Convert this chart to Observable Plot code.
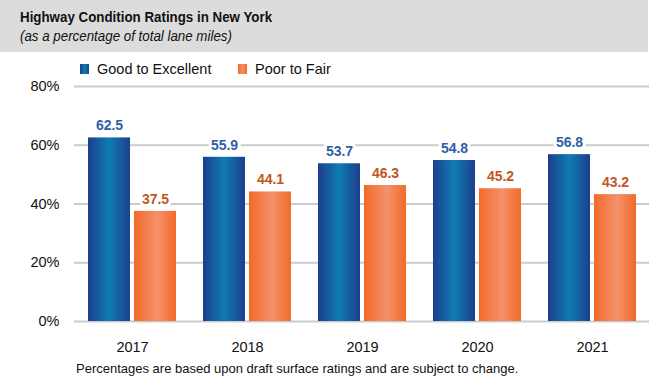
<!DOCTYPE html>
<html>
<head>
<meta charset="utf-8">
<script src="https://cdn.jsdelivr.net/npm/d3@7"></script>
<script src="https://cdn.jsdelivr.net/npm/@observablehq/plot@0.6"></script>
<style>
  body { margin: 0; background: #fff; font-family: "Liberation Sans", Arial, sans-serif; }
  #wrap { position: relative; width: 650px; height: 381px; overflow: hidden; }
  #header { position: absolute; left: 0; top: 0; width: 648px; height: 52px; background: #dcdcdc; }
  #title { position: absolute; left: 20px; top: 8px; font-size: 15.5px; font-weight: bold; color: #111; transform: scaleX(0.86); transform-origin: 0 0; white-space: nowrap; }
  #subtitle { position: absolute; left: 20px; top: 27px; font-size: 15.5px; font-style: italic; color: #111; transform: scaleX(0.86); transform-origin: 0 0; white-space: nowrap; }
  .leg { position: absolute; top: 61px; font-size: 14.5px; color: #111; display: flex; align-items: center; }
  .sw { width: 9px; height: 10px; margin-right: 8px; display: inline-block; }
  #chart { position: absolute; left: 0; top: 60px; }
  #footer { position: absolute; left: 76px; top: 361px; font-size: 13px; color: #111; white-space: nowrap; }
</style>
</head>
<body>
<div id="wrap">
  <div id="header">
    <div id="title">Highway Condition Ratings in New York</div>
    <div id="subtitle">(as a percentage of total lane miles)</div>
  </div>
  <div class="leg" style="left:80px"><span class="sw" style="background:linear-gradient(to right,#1c3f8f,#0f7bb0,#1d4490)"></span>Good to Excellent</div>
  <div class="leg" style="left:238px"><span class="sw" style="background:linear-gradient(to right,#f26a2a,#f48f66,#f26a2a)"></span>Poor to Fair</div>
  <div id="chart"></div>
  <div id="footer">Percentages are based upon draft surface ratings and are subject to change.</div>
</div>
<script>
const years = ["2017", "2018", "2019", "2020", "2021"];
const goodToExcellent = [62.5, 55.9, 53.7, 54.8, 56.8];
const poorToFair = [37.5, 44.1, 46.3, 45.2, 43.2];
const yTicks = [0, 20, 40, 60, 80];

const good = years.map((y, i) => ({year: y, value: goodToExcellent[i]}));
const poor = years.map((y, i) => ({year: y, value: poorToFair[i]}));

const chart = Plot.plot({
  width: 650,
  height: 300,
  marginLeft: 74,
  marginRight: 1,
  marginTop: 26,
  marginBottom: 39,
  style: {fontFamily: "'Liberation Sans', Arial, sans-serif", fontSize: "14.5px", color: "#111", background: "transparent"},
  x: {domain: years, paddingInner: 0.235, paddingOuter: 0.1175, label: null, tickSize: 0, tickPadding: 20},
  y: {domain: [0, 80], ticks: yTicks, tickFormat: d => d + "%", label: null, tickSize: 0, tickPadding: 15},
  marks: [
    Plot.ruleY(yTicks, {stroke: "#cbcbcb", strokeWidth: 2}),
    Plot.text(good, {x: "year", y: "value", text: d => d.value.toFixed(1), dx: -23, dy: -12, fill: "#2e5fa8", fontWeight: "bold", fontSize: 14, stroke: "white", strokeWidth: 6}),
    Plot.text(poor, {x: "year", y: "value", text: d => d.value.toFixed(1), dx: 23, dy: -12, fill: "#c2561e", fontWeight: "bold", fontSize: 14, stroke: "white", strokeWidth: 6}),
    Plot.barY(good, {x: "year", y: "value", fill: "url(#gBlue)", insetRight: 46}),
    Plot.barY(poor, {x: "year", y: "value", fill: "url(#gOrange)", insetLeft: 46})
  ]
});

const defs = d3.select(chart).insert("defs", ":first-child");
function grad(id, stops) {
  const g = defs.append("linearGradient").attr("id", id).attr("x1", "0").attr("x2", "1").attr("y1", "0").attr("y2", "0");
  stops.forEach(([o, c]) => g.append("stop").attr("offset", o).attr("stop-color", c));
}
grad("gBlue", [[0, "#1d3e8c"], [0.5, "#0e7cb2"], [1, "#1d3f8e"]]);
grad("gOrange", [[0, "#f26a2a"], [0.55, "#f5916a"], [1, "#f26a2a"]]);

document.getElementById("chart").appendChild(chart);
</script>
</body>
</html>
